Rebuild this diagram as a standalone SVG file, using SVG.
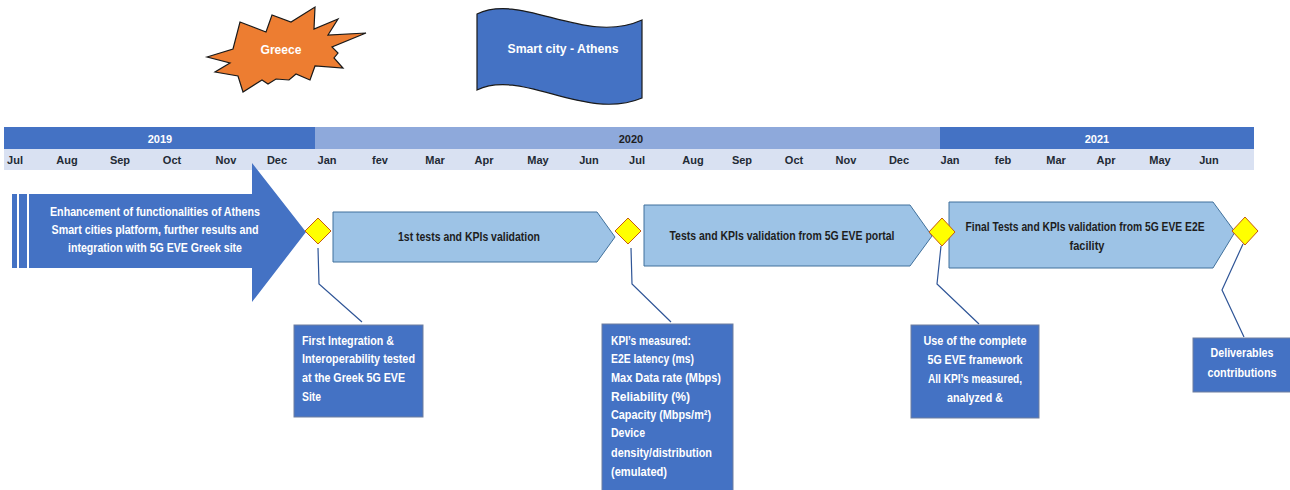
<svg xmlns="http://www.w3.org/2000/svg" width="1290" height="490" viewBox="0 0 1290 490">
  <style>
    text { font-family: "Liberation Sans", Arial, sans-serif; font-weight: bold; }
    .yr { font-size: 11px; text-anchor: middle; }
    .mo { font-size: 11px; text-anchor: middle; fill: #222a35; }
    .light { fill: #ffffff; }
    .dark { fill: #1e1e1e; }
    .lbl { font-size: 13px; }
    .mid { text-anchor: middle; }
    .phase { fill: #9dc3e6; stroke: #41719c; stroke-width: 1; }
    .ms { fill: #ffff00; stroke: #c55a11; stroke-width: 1; }
    .note { fill: #4472c4; stroke: #6f7f9f; stroke-width: 1; }
    .lead { fill: none; stroke: #2f5597; stroke-width: 1.2; }
  </style>

  <!-- title shapes -->
  <g id="greece">
    <polygon points="207,57 233,49 240,22 266,32 272,15 291,22 315,7 314,29 338,19 328,35 366,33 332,47 338,53 334,58 343,68 315,66 310,80 296,74 289,80 276,79 268,84 262,80 243,92 238,76 215,72 230,63" fill="#ed7d31" stroke="#1a1a1a" stroke-width="1.2" stroke-linejoin="miter"/>
    <text class="lbl light mid" x="281" y="54" textLength="41" lengthAdjust="spacingAndGlyphs">Greece</text>
  </g>
  <g id="smart-city">
    <path d="M477,14 C522,-8 585,46 642,20 L642,98 C585,122 522,68 477,90 Z" fill="#4472c4" stroke="#1a1a1a" stroke-width="1.2"/>
    <text class="lbl light mid" x="563" y="53" textLength="111" lengthAdjust="spacingAndGlyphs">Smart city - Athens</text>
  </g>

  <!-- timeline header -->
  <g id="years">
    <rect x="4" y="127" width="311" height="22" fill="#4472c4"/>
    <rect x="315" y="127" width="625" height="22" fill="#8ea9db"/>
    <rect x="940" y="127" width="314" height="22" fill="#4472c4"/>
    <text class="yr light" x="160" y="143">2019</text>
    <text class="yr dark" x="631" y="143">2020</text>
    <text class="yr light" x="1097" y="143">2021</text>
  </g>
  <g id="months">
    <rect x="4" y="149" width="1250" height="21" fill="#d9e1f2"/>
    <text class="mo" x="15" y="164">Jul</text>
    <text class="mo" x="67" y="164">Aug</text>
    <text class="mo" x="120" y="164">Sep</text>
    <text class="mo" x="172" y="164">Oct</text>
    <text class="mo" x="226" y="164">Nov</text>
    <text class="mo" x="277" y="164">Dec</text>
    <text class="mo" x="327" y="164">Jan</text>
    <text class="mo" x="380" y="164">fev</text>
    <text class="mo" x="435" y="164">Mar</text>
    <text class="mo" x="484" y="164">Apr</text>
    <text class="mo" x="538" y="164">May</text>
    <text class="mo" x="589" y="164">Jun</text>
    <text class="mo" x="637" y="164">Jul</text>
    <text class="mo" x="693" y="164">Aug</text>
    <text class="mo" x="742" y="164">Sep</text>
    <text class="mo" x="794" y="164">Oct</text>
    <text class="mo" x="846" y="164">Nov</text>
    <text class="mo" x="899" y="164">Dec</text>
    <text class="mo" x="950" y="164">Jan</text>
    <text class="mo" x="1003" y="164">feb</text>
    <text class="mo" x="1056" y="164">Mar</text>
    <text class="mo" x="1106" y="164">Apr</text>
    <text class="mo" x="1160" y="164">May</text>
    <text class="mo" x="1209" y="164">Jun</text>
  </g>

  <!-- phase 0: big arrow -->
  <g id="enhancement">
    <rect x="12" y="194" width="5" height="74" fill="#4472c4"/>
    <rect x="19" y="194" width="8" height="74" fill="#4472c4"/>
    <polygon points="29,194 252,194 252,163 306,232 252,302 252,268 29,268" fill="#4472c4"/>
    <text class="lbl light mid" x="155" y="216" textLength="210" lengthAdjust="spacingAndGlyphs">Enhancement of functionalities of Athens</text>
    <text class="lbl light mid" x="155" y="234" textLength="207" lengthAdjust="spacingAndGlyphs">Smart cities platform, further results and</text>
    <text class="lbl light mid" x="155" y="252" textLength="174" lengthAdjust="spacingAndGlyphs">integration with 5G EVE Greek site</text>
  </g>

  <!-- phases -->
  <g id="phase-1">
    <polygon class="phase" points="333,212 597,212 615,237 597,262 333,262"/>
    <text class="lbl dark mid" x="469" y="241" textLength="142" lengthAdjust="spacingAndGlyphs">1st tests and KPIs validation</text>
  </g>
  <g id="phase-2">
    <polygon class="phase" points="644,205 910,205 932,236 910,266 644,266"/>
    <text class="lbl dark mid" x="782" y="240" textLength="225" lengthAdjust="spacingAndGlyphs">Tests and KPIs validation from 5G EVE portal</text>
  </g>
  <g id="phase-3">
    <polygon class="phase" points="949,202 1213,202 1235,232 1213,268 949,268"/>
    <text class="lbl dark mid" x="1085" y="231" textLength="239" lengthAdjust="spacingAndGlyphs">Final Tests and KPIs validation from 5G EVE E2E</text>
    <text class="lbl dark mid" x="1087" y="250" textLength="35" lengthAdjust="spacingAndGlyphs">facility</text>
  </g>

  <!-- milestones -->
  <g id="milestone-1"><polygon class="ms" points="318,218 331,231 318,244 305,231"/></g>
  <g id="milestone-2"><polygon class="ms" points="628,218 641,231 628,244 615,231"/></g>
  <g id="milestone-3"><polygon class="ms" points="942,218 955,232 942,246 929,232"/></g>
  <g id="milestone-4"><polygon class="ms" points="1245,217 1258,231 1245,245 1232,231"/></g>

  <!-- leader lines -->
  <g id="connectors">
    <polyline class="lead" points="318,248 319,284 362,322"/>
    <polyline class="lead" points="631,248 632,284 671,322"/>
    <polyline class="lead" points="941,246 937,284 979,324"/>
    <polyline class="lead" points="1243,244 1222,290 1244,337"/>
  </g>

  <!-- notes -->
  <g id="note-1">
    <rect class="note" x="294" y="325" width="129" height="92"/>
    <text class="lbl light" x="302" y="345" textLength="92" lengthAdjust="spacingAndGlyphs">First Integration &amp;</text>
    <text class="lbl light" x="302" y="363" textLength="113" lengthAdjust="spacingAndGlyphs">Interoperability tested</text>
    <text class="lbl light" x="302" y="382" textLength="103" lengthAdjust="spacingAndGlyphs">at the Greek 5G EVE</text>
    <text class="lbl light" x="302" y="401" textLength="19" lengthAdjust="spacingAndGlyphs">Site</text>
  </g>
  <g id="note-2">
    <rect class="note" x="602" y="324" width="131" height="170"/>
    <text class="lbl light" x="611" y="345" textLength="80" lengthAdjust="spacingAndGlyphs">KPI’s measured:</text>
    <text class="lbl light" x="611" y="363" textLength="83" lengthAdjust="spacingAndGlyphs">E2E latency (ms)</text>
    <text class="lbl light" x="611" y="382" textLength="110" lengthAdjust="spacingAndGlyphs">Max Data rate (Mbps)</text>
    <text class="lbl light" x="611" y="401" textLength="79" lengthAdjust="spacingAndGlyphs">Reliability (%)</text>
    <text class="lbl light" x="611" y="419" textLength="100" lengthAdjust="spacingAndGlyphs">Capacity (Mbps/m²)</text>
    <text class="lbl light" x="611" y="437" textLength="34" lengthAdjust="spacingAndGlyphs">Device</text>
    <text class="lbl light" x="611" y="457" textLength="101" lengthAdjust="spacingAndGlyphs">density/distribution</text>
    <text class="lbl light" x="611" y="476" textLength="56" lengthAdjust="spacingAndGlyphs">(emulated)</text>
  </g>
  <g id="note-3">
    <rect class="note" x="911" y="325" width="128" height="93"/>
    <text class="lbl light mid" x="975" y="345" textLength="103" lengthAdjust="spacingAndGlyphs">Use of the complete</text>
    <text class="lbl light mid" x="975" y="364" textLength="95" lengthAdjust="spacingAndGlyphs">5G EVE framework</text>
    <text class="lbl light mid" x="975" y="383" textLength="94" lengthAdjust="spacingAndGlyphs">All KPI’s measured,</text>
    <text class="lbl light mid" x="975" y="402" textLength="56" lengthAdjust="spacingAndGlyphs">analyzed &amp;</text>
  </g>
  <g id="note-4">
    <rect class="note" x="1193" y="338" width="100" height="54"/>
    <text class="lbl light mid" x="1242" y="357" textLength="63" lengthAdjust="spacingAndGlyphs">Deliverables</text>
    <text class="lbl light mid" x="1242" y="377" textLength="69" lengthAdjust="spacingAndGlyphs">contributions</text>
  </g>
</svg>
